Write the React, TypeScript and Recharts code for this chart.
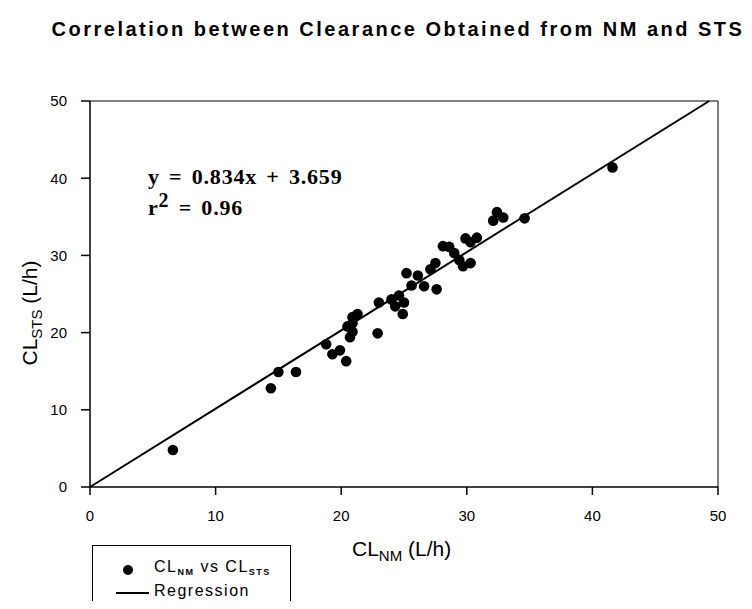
import React from 'react';
import { ScatterChart, Scatter, XAxis, YAxis, ReferenceLine } from 'recharts';

const clNM = [6.6, 14.4, 15.0, 16.4, 18.8, 19.3, 19.9, 20.4, 20.7, 20.9, 20.5, 20.9, 20.9, 21.3, 22.9, 23.0, 24.0, 24.6, 24.3, 25.0, 24.9, 25.2, 26.1, 25.6, 26.6, 27.6, 27.1, 27.5, 28.1, 28.6, 29.0, 29.4, 29.7, 30.3, 29.9, 30.3, 30.8, 32.1, 32.4, 32.9, 34.6, 41.6];
const clSTS = [4.8, 12.8, 14.9, 14.9, 18.5, 17.2, 17.7, 16.3, 19.4, 20.1, 20.8, 21.2, 22.0, 22.4, 19.9, 23.9, 24.3, 24.8, 23.4, 23.9, 22.4, 27.7, 27.4, 26.1, 26.0, 25.6, 28.2, 29.0, 31.2, 31.1, 30.3, 29.4, 28.6, 29.0, 32.2, 31.7, 32.3, 34.5, 35.6, 34.9, 34.8, 41.4];
const regX = [0, 49.3];
const regY = [0, 50];
const xTicks = [0, 10, 20, 30, 40, 50];
const yTicks = [0, 10, 20, 30, 40, 50];

const points = clNM.map((x, i) => ({ x, y: clSTS[i] }));

const sans = '"Liberation Sans", Arial, Helvetica, sans-serif';
const serif = '"Liberation Serif", "Times New Roman", serif';

const Dot = (props: any) => <circle cx={props.cx} cy={props.cy} r={5.3} fill="#000" />;

export default function App() {
  return (
    <div style={{ position: 'relative', width: 736, height: 593, background: '#fff' }}>
      <ScatterChart width={736} height={593} margin={{ top: 93, right: 26, bottom: 84, left: 22 }}>
        <XAxis
          type="number"
          dataKey="x"
          domain={[0, 50]}
          ticks={xTicks}
          allowDataOverflow
          stroke="#000"
          strokeWidth={1.5}
          tickSize={8}
          tickMargin={15}
          height={30}
          tick={{ fill: '#000', fontSize: 15, fontFamily: sans }}
        />
        <YAxis
          type="number"
          dataKey="y"
          domain={[0, 50]}
          ticks={yTicks}
          allowDataOverflow
          stroke="#000"
          strokeWidth={1.5}
          tickSize={9}
          tickMargin={14}
          width={60}
          tick={{ fill: '#000', fontSize: 15, fontFamily: sans }}
        />
        <ReferenceLine y={50} stroke="#000" strokeWidth={1} />
        <ReferenceLine x={50} stroke="#000" strokeWidth={1} />
        <ReferenceLine
          segment={[{ x: regX[0], y: regY[0] }, { x: regX[1], y: regY[1] }]}
          stroke="#000"
          strokeWidth={2}
        />
        <Scatter data={points} shape={Dot} isAnimationActive={false} />
      </ScatterChart>

      <div style={{ position: 'absolute', left: 0, width: 780, top: 10, textAlign: 'center', fontFamily: sans, fontWeight: 'bold', fontSize: 20, letterSpacing: 2.5, color: '#000', whiteSpace: 'nowrap' }}>
        Correlation between Clearance Obtained from NM and STS
      </div>

      <div style={{ position: 'absolute', left: 140, top: 153, fontFamily: serif, fontWeight: 'bold', fontSize: 22, letterSpacing: 0.8, wordSpacing: 3, color: '#000', lineHeight: '31px', whiteSpace: 'nowrap' }}>
        <div>y = 0.834x + 3.659</div>
        <div>r<sup style={{ fontSize: 20, verticalAlign: 'baseline', position: 'relative', top: -8 }}>2</sup> = 0.96</div>
      </div>

      <div style={{ position: 'absolute', left: 344, top: 529, fontFamily: sans, fontSize: 21, color: '#000', whiteSpace: 'nowrap' }}>
        CL<span style={{ fontSize: 15, position: 'relative', top: 5 }}>NM</span> (L/h)
      </div>

      <div style={{ position: 'absolute', left: 22, top: 305, width: 0, height: 0 }}>
        <div style={{ position: 'absolute', transform: 'translate(-50%, -50%) rotate(-90deg)', fontFamily: sans, fontSize: 21, color: '#000', whiteSpace: 'nowrap' }}>
          CL<span style={{ fontSize: 15, position: 'relative', top: 5 }}>STS</span> (L/h)
        </div>
      </div>

      <div style={{ position: 'absolute', left: 84, top: 537, width: 197, height: 56, borderLeft: '1.5px solid #000', borderRight: '1.5px solid #000', borderTop: '1.5px solid #000', fontFamily: sans, color: '#000' }}>
        <div style={{ position: 'absolute', left: 30, top: 19, width: 10, height: 10, borderRadius: 5, background: '#000' }} />
        <div style={{ position: 'absolute', left: 61, top: 12, fontSize: 16, letterSpacing: 1.5, whiteSpace: 'nowrap' }}>
          CL<span style={{ fontSize: 9, fontWeight: 'bold', position: 'relative', top: 3 }}>NM</span> vs CL<span style={{ fontSize: 9, fontWeight: 'bold', position: 'relative', top: 3 }}>STS</span>
        </div>
        <div style={{ position: 'absolute', left: 23, top: 46, width: 33, height: 1.5, background: '#000' }} />
        <div style={{ position: 'absolute', left: 61, top: 36, fontSize: 16, letterSpacing: 1.5, whiteSpace: 'nowrap' }}>Regression</div>
      </div>
    </div>
  );
}
